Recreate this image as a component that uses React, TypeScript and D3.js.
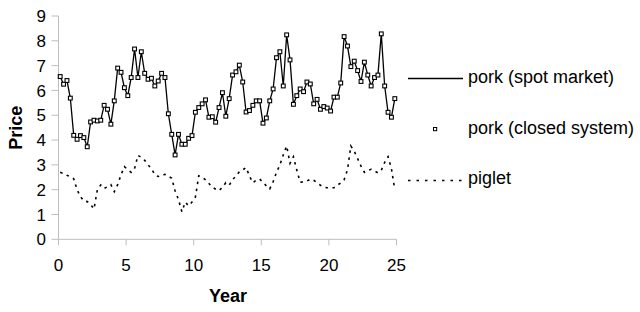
import React from "react";
import * as d3 from "d3";

const porkSpot: number[] = [
  6.56, 6.25, 6.40, 5.69, 4.19, 4.03, 4.18, 4.10, 3.73, 4.73,
  4.80, 4.77, 4.80, 5.40, 5.24, 4.64, 5.58, 6.90, 6.73, 6.11,
  5.79, 6.52, 7.67, 6.52, 7.56, 6.69, 6.45, 6.49, 6.18, 6.38,
  6.69, 6.52, 5.06, 4.23, 3.40, 4.23, 3.83, 3.83, 4.07, 4.18,
  5.12, 5.31, 5.46, 5.62, 4.92, 4.94, 4.72, 5.31, 5.91, 4.96,
  5.67, 6.62, 6.75, 7.02, 6.34, 5.13, 5.19, 5.40, 5.58, 5.58,
  4.68, 4.89, 5.58, 6.06, 7.32, 7.56, 6.18, 8.24, 7.23, 5.44,
  5.79, 6.06, 5.95, 6.34, 6.26, 5.46, 5.64, 5.24, 5.35, 5.29,
  5.17, 5.73, 5.73, 6.30, 8.17, 7.79, 6.96, 7.18, 6.80, 6.36,
  7.14, 6.62, 6.18, 6.52, 6.62, 8.28, 6.18, 5.12, 4.92, 5.67,
];

const piglet: number[] = [
  2.70, 2.65, 2.58, 2.52, 2.44, 2.00, 1.72, 1.54, 1.52, 1.40,
  1.22, 2.00, 2.19, 2.05, 2.12, 2.20, 1.92, 2.20, 2.60, 2.93,
  2.80, 2.70, 2.85, 3.38, 3.30, 3.18, 3.00, 2.85, 2.60, 2.53,
  2.56, 2.62, 2.55, 2.46, 1.95, 1.60, 1.11, 1.50, 1.35, 1.50,
  1.70, 2.56, 2.50, 2.40, 2.25, 2.10, 2.02, 1.96, 2.10, 2.28,
  2.18, 2.40, 2.55, 2.72, 2.80, 2.89, 2.55, 2.28, 2.38, 2.43,
  2.30, 2.15, 2.03, 2.32, 2.70, 3.00, 3.40, 3.76, 3.06, 3.33,
  2.79, 2.30, 2.32, 2.35, 2.42, 2.38, 2.28, 2.18, 2.10, 2.08,
  2.07, 2.08, 2.18, 2.27, 2.40, 2.80, 3.76, 3.55, 3.25, 2.95,
  2.70, 2.78, 2.82, 2.75, 2.68, 2.78, 3.10, 3.33, 2.85, 1.99,
];

const xTicks: number[] = [0, 5, 10, 15, 20, 25];
const yTicks: number[] = [0, 1, 2, 3, 4, 5, 6, 7, 8, 9];
const legendLabels: string[] = ["pork (spot market)", "pork (closed system)", "piglet"];

const yearOf = (i: number) => 0.125 + i * 0.25;

export default function App() {
  const x = d3.scaleLinear().domain([0, 25]).range([58.5, 396.5]);
  const y = d3.scaleLinear().domain([0, 9]).range([239.3, 16]);
  const line = d3
    .line<number>()
    .x((_, i) => x(yearOf(i)))
    .y((d) => y(d));
  const axisColor = "#bdbdbd";
  const font = "Liberation Sans, Arial, sans-serif";
  const ms = 3.8;

  return (
    <svg
      width={640}
      height={312}
      style={{ position: "absolute", left: 0, top: 0, background: "#fff" }}
      fontFamily={font}
    >
      {/* axes */}
      <line x1={x(0)} x2={x(0)} y1={y(9)} y2={y(0)} stroke={axisColor} strokeWidth={1} />
      <line x1={x(0)} x2={x(25)} y1={y(0)} y2={y(0)} stroke={axisColor} strokeWidth={1} />
      {yTicks.map((t) => (
        <g key={"y" + t}>
          <line x1={x(0) - 7} x2={x(0)} y1={y(t)} y2={y(t)} stroke={axisColor} />
          <text x={46} y={y(t)} dy="0.36em" textAnchor="end" fontSize={17} fill="#000">
            {t}
          </text>
        </g>
      ))}
      {xTicks.map((t) => (
        <g key={"x" + t}>
          <line x1={x(t)} x2={x(t)} y1={y(0)} y2={y(0) + 6} stroke={axisColor} />
          <text x={x(t)} y={271} textAnchor="middle" fontSize={17} fill="#000">
            {t}
          </text>
        </g>
      ))}
      <text x={228} y={302} textAnchor="middle" fontSize={18} fontWeight="bold">
        Year
      </text>
      <text
        transform={`translate(22,${(y(0) + y(9)) / 2}) rotate(-90)`}
        textAnchor="middle"
        fontSize={18}
        fontWeight="bold"
      >
        Price
      </text>

      {/* piglet */}
      <path
        d={line(piglet) || ""}
        fill="none"
        stroke="#000"
        strokeWidth={1.6}
        strokeDasharray="2.5,4.5"
      />
      {/* pork spot */}
      <path d={line(porkSpot) || ""} fill="none" stroke="#000" strokeWidth={1.3} />
      {porkSpot.map((v, i) => (
        <rect
          key={"m" + i}
          x={x(yearOf(i)) - ms / 2}
          y={y(v) - ms / 2}
          width={ms}
          height={ms}
          fill="#fff"
          stroke="#000"
          strokeWidth={1.1}
        />
      ))}

      {/* legend */}
      <line x1={408} x2={463} y1={78.5} y2={78.5} stroke="#000" strokeWidth={1.3} />
      <rect x={433.5} y={127.5} width={3.2} height={3.2} fill="#fff" stroke="#000" strokeWidth={1} />
      <line
        x1={408}
        x2={463}
        y1={180.5}
        y2={180.5}
        stroke="#000"
        strokeWidth={1.6}
        strokeDasharray="2.5,6"
      />
      {legendLabels.map((l, i) => (
        <text key={l} x={468} y={83 + i * 50.5} fontSize={18} fill="#000">
          {l}
        </text>
      ))}
    </svg>
  );
}
